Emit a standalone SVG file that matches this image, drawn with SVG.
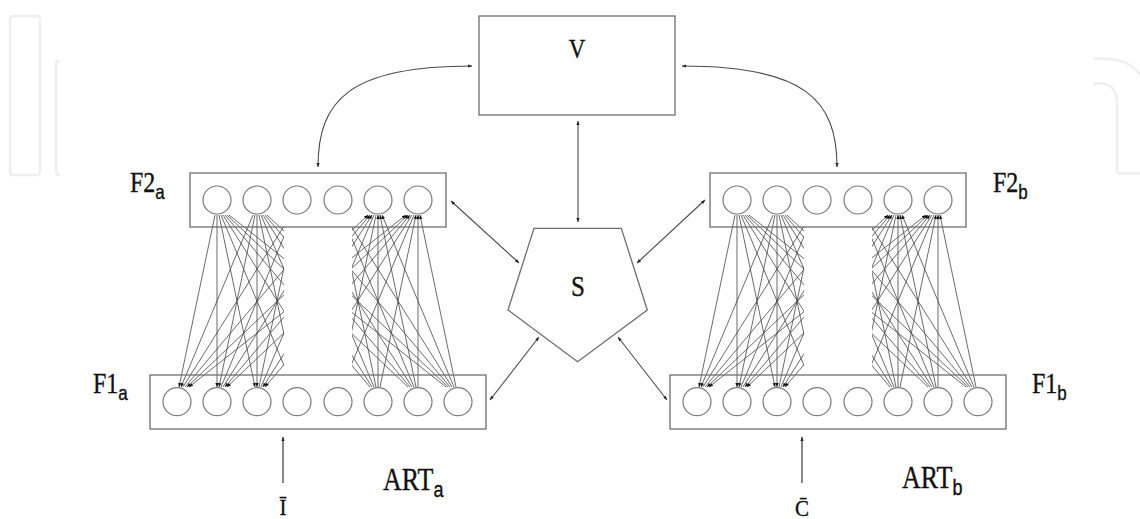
<svg xmlns="http://www.w3.org/2000/svg" xmlns:xlink="http://www.w3.org/1999/xlink" width="1140" height="519" viewBox="0 0 1140 519">
<style>
.box{fill:#fff;stroke:#6e6e6e;stroke-width:1.3}
.cell{fill:#fff;stroke:#7a7a7a;stroke-width:1.2}
.conn{fill:none;stroke:#4a4a4a;stroke-width:1.1;marker-start:url(#ah);marker-end:url(#ah)}
.inp{fill:none;stroke:#3a3a3a;stroke-width:1.2;marker-end:url(#ah)}
.net line{stroke:#454545;stroke-width:0.8}
.net .te{marker-end:url(#bar)}
.net .bs{marker-start:url(#bar)}
text{fill:#111;stroke:#111;stroke-width:0.3}
.wm{fill:none;stroke:#efefef;stroke-width:2.5}
</style>
<defs>
<marker id="ah" viewBox="0 0 6 6" refX="6" refY="3" markerWidth="5" markerHeight="4" markerUnits="userSpaceOnUse" orient="auto-start-reverse"><path d="M0,0.6 L6,3 L0,5.4z" fill="#222"/></marker>
<marker id="bar" viewBox="0 0 6 6" refX="6" refY="3" markerWidth="5" markerHeight="4" markerUnits="userSpaceOnUse" orient="auto-start-reverse"><path d="M0,0.5 L6,3 L0,5.5z" fill="#111"/></marker>
<clipPath id="band" clipPathUnits="userSpaceOnUse"><rect x="0" y="0" width="284" height="519"/><rect x="352" y="0" width="160" height="519"/></clipPath>
</defs>

<g id="watermark">
<rect class="wm" x="10" y="16" width="30" height="159" rx="3"/>
<path class="wm" d="M60,61 L59,61 Q56,61 56,64 L56,172 Q56,175 59,175 L60,175"/>
<path class="wm" d="M1093,58.5 L1100,58.5 Q1130,58.5 1140,75"/>
<path class="wm" d="M1093,83.5 L1100,83.5 Q1117,83.5 1117,105 L1117,170 Q1117,173.5 1120,173.5 L1140,173.5"/>
</g>

<g id="connectors">
<path class="conn" d="M318,167 C318,100 350,66 472,66"/>
<path class="conn" d="M837,167 C837,100 805,66 682,66"/>
<line class="conn" x1="578" y1="121" x2="578" y2="222"/>
<line class="conn" x1="451" y1="201" x2="519" y2="263"/>
<line class="conn" x1="705" y1="200" x2="637" y2="263"/>
<line class="conn" x1="490" y1="400" x2="539" y2="337"/>
<line class="conn" x1="667" y1="400" x2="618" y2="337"/>
<line class="inp" x1="283" y1="483" x2="283" y2="437"/>
<line class="inp" x1="802" y1="483" x2="802" y2="437"/>
<g id="net-a" class="net" clip-path="url(#band)">
<line x1="215" y1="215" x2="179" y2="387" class="te"/>
<line x1="217" y1="215" x2="217" y2="387" class="te"/>
<line x1="219" y1="215" x2="255" y2="387" class="te"/>
<line x1="221" y1="215" x2="293" y2="387"/>
<line x1="223" y1="215" x2="332" y2="387"/>
<line x1="225" y1="215" x2="370" y2="387"/>
<line x1="227" y1="215" x2="408" y2="387"/>
<line x1="229" y1="215" x2="446" y2="387"/>
<line x1="253" y1="215" x2="181" y2="387" class="te"/>
<line x1="255" y1="215" x2="219" y2="387" class="te"/>
<line x1="257" y1="215" x2="257" y2="387" class="te"/>
<line x1="259" y1="215" x2="295" y2="387"/>
<line x1="261" y1="215" x2="334" y2="387"/>
<line x1="263" y1="215" x2="372" y2="387"/>
<line x1="265" y1="215" x2="410" y2="387"/>
<line x1="267" y1="215" x2="448" y2="387"/>
<line x1="291" y1="215" x2="183" y2="387"/>
<line x1="293" y1="215" x2="221" y2="387"/>
<line x1="295" y1="215" x2="259" y2="387"/>
<line x1="301" y1="215" x2="374" y2="387"/>
<line x1="303" y1="215" x2="412" y2="387"/>
<line x1="305" y1="215" x2="450" y2="387"/>
<line x1="330" y1="215" x2="185" y2="387"/>
<line x1="332" y1="215" x2="223" y2="387"/>
<line x1="334" y1="215" x2="261" y2="387"/>
<line x1="340" y1="215" x2="376" y2="387"/>
<line x1="342" y1="215" x2="414" y2="387"/>
<line x1="344" y1="215" x2="452" y2="387"/>
<line x1="368" y1="215" x2="187" y2="387" class="te bs"/>
<line x1="370" y1="215" x2="225" y2="387" class="te bs"/>
<line x1="372" y1="215" x2="263" y2="387" class="te bs"/>
<line x1="374" y1="215" x2="301" y2="387"/>
<line x1="376" y1="215" x2="340" y2="387"/>
<line x1="378" y1="215" x2="378" y2="387" class="bs"/>
<line x1="380" y1="215" x2="416" y2="387" class="bs"/>
<line x1="382" y1="215" x2="454" y2="387" class="bs"/>
<line x1="406" y1="215" x2="189" y2="387" class="te bs"/>
<line x1="408" y1="215" x2="227" y2="387" class="te bs"/>
<line x1="410" y1="215" x2="265" y2="387" class="te bs"/>
<line x1="412" y1="215" x2="303" y2="387"/>
<line x1="414" y1="215" x2="342" y2="387"/>
<line x1="416" y1="215" x2="380" y2="387" class="bs"/>
<line x1="418" y1="215" x2="418" y2="387" class="bs"/>
<line x1="420" y1="215" x2="456" y2="387" class="bs"/>
</g>
<use id="net-b" href="#net-a" xlink:href="#net-a" transform="translate(520,0)"/>
</g>

<g id="node-V">
<rect class="box" x="479" y="16" width="196" height="99"/>
<text font-family="Liberation Serif, DejaVu Serif, serif" font-size="23" text-anchor="middle" transform="translate(577,58) scale(1,1.2)">V</text>
</g>

<g id="node-S">
<polygon class="box" points="534,228.3 621.3,228.3 647.3,310 577.6,361.7 508,310"/>
<text font-family="Liberation Serif, DejaVu Serif, serif" font-size="25" text-anchor="middle" transform="translate(578,296) scale(1,1.15)">S</text>
</g>

<g id="node-F2a">
<rect class="box" x="190" y="173" width="256" height="54" fill-opacity="0"/>
<circle class="cell" cx="217" cy="200" r="14"/>
<circle class="cell" cx="257" cy="200" r="14"/>
<circle class="cell" cx="297" cy="200" r="14"/>
<circle class="cell" cx="338" cy="200" r="14"/>
<circle class="cell" cx="378" cy="200" r="14"/>
<circle class="cell" cx="418" cy="200" r="14"/>
<text font-family="Liberation Serif, DejaVu Serif, serif" font-size="24" transform="translate(130,192) scale(1,1.2)">F2<tspan font-family="Liberation Sans, Arial, sans-serif" font-size="17" dy="6">a</tspan></text>
</g>

<g id="node-F1a">
<rect class="box" x="150" y="375" width="336" height="54" fill-opacity="0"/>
<circle class="cell" cx="177" cy="401.7" r="14"/>
<circle class="cell" cx="217" cy="401.7" r="14"/>
<circle class="cell" cx="257" cy="401.7" r="14"/>
<circle class="cell" cx="297" cy="401.7" r="14"/>
<circle class="cell" cx="338" cy="401.7" r="14"/>
<circle class="cell" cx="378" cy="401.7" r="14"/>
<circle class="cell" cx="418" cy="401.7" r="14"/>
<circle class="cell" cx="458" cy="401.7" r="14"/>
<text font-family="Liberation Serif, DejaVu Serif, serif" font-size="24" transform="translate(93,393) scale(1,1.2)">F1<tspan font-family="Liberation Sans, Arial, sans-serif" font-size="17" dy="6">a</tspan></text>
</g>

<g id="node-F2b">
<rect class="box" x="710" y="173" width="256" height="54" fill-opacity="0"/>
<circle class="cell" cx="737" cy="200" r="14"/>
<circle class="cell" cx="777" cy="200" r="14"/>
<circle class="cell" cx="817" cy="200" r="14"/>
<circle class="cell" cx="858" cy="200" r="14"/>
<circle class="cell" cx="898" cy="200" r="14"/>
<circle class="cell" cx="938" cy="200" r="14"/>
<text font-family="Liberation Serif, DejaVu Serif, serif" font-size="24" transform="translate(993,192) scale(1,1.2)">F2<tspan font-family="Liberation Sans, Arial, sans-serif" font-size="17" dy="6">b</tspan></text>
</g>

<g id="node-F1b">
<rect class="box" x="670" y="375" width="336" height="54" fill-opacity="0"/>
<circle class="cell" cx="697" cy="401.7" r="14"/>
<circle class="cell" cx="737" cy="401.7" r="14"/>
<circle class="cell" cx="777" cy="401.7" r="14"/>
<circle class="cell" cx="817" cy="401.7" r="14"/>
<circle class="cell" cx="858" cy="401.7" r="14"/>
<circle class="cell" cx="898" cy="401.7" r="14"/>
<circle class="cell" cx="938" cy="401.7" r="14"/>
<circle class="cell" cx="978" cy="401.7" r="14"/>
<text font-family="Liberation Serif, DejaVu Serif, serif" font-size="24" transform="translate(1032,393) scale(1,1.2)">F1<tspan font-family="Liberation Sans, Arial, sans-serif" font-size="17" dy="6">b</tspan></text>
</g>

<g id="label-ARTa">
<text font-family="Liberation Serif, DejaVu Serif, serif" font-size="26" transform="translate(383,490) scale(1,1.2)">ART<tspan font-family="Liberation Sans, Arial, sans-serif" font-size="18" dy="6">a</tspan></text>
</g>
<g id="label-ARTb">
<text font-family="Liberation Serif, DejaVu Serif, serif" font-size="26" transform="translate(902,488) scale(1,1.2)">ART<tspan font-family="Liberation Sans, Arial, sans-serif" font-size="18" dy="6">b</tspan></text>
</g>
<g id="input-I">
<text font-family="Liberation Serif, DejaVu Serif, serif" font-size="21" text-anchor="middle" transform="translate(283,515) scale(1,1.1)">Ī</text>
</g>
<g id="input-C">
<text font-family="Liberation Serif, DejaVu Serif, serif" font-size="21" text-anchor="middle" transform="translate(802,516) scale(1,1.1)">C̄</text>
</g>
</svg>
